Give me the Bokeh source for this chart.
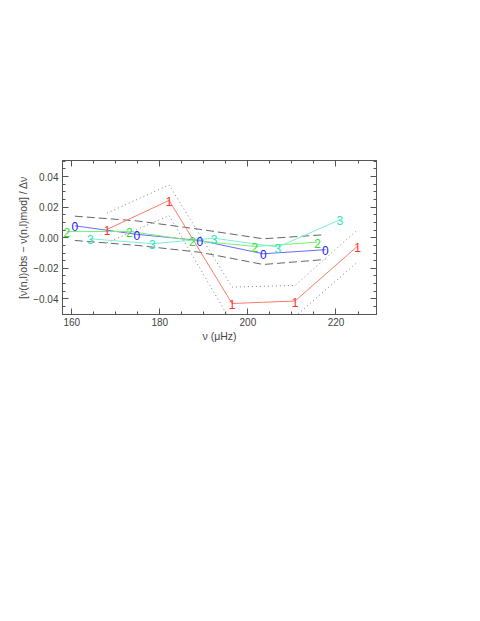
from bokeh.plotting import figure
from bokeh.models import FixedTicker, LinearAxis, Range1d, CustomJSTickFormatter, CustomLabelingPolicy
from bokeh.core.properties import value
from bokeh.embed import file_html
from bokeh.resources import INLINE

# l = 0
x_l0 = [160.7, 174.8, 189.1, 203.5, 217.6]
y_l0 = [0.0078, 0.0022, -0.0018, -0.0105, -0.0078]
# l = 1
x_l1 = [168.0, 182.1, 196.4, 210.7, 224.9]
y_l1 = [0.0054, 0.0244, -0.0430, -0.0414, -0.0055]
# l = 2
x_l2 = [158.9, 173.1, 187.4, 201.6, 215.8]
y_l2 = [0.0040, 0.0041, -0.0018, -0.0057, -0.0029]
# l = 3
x_l3 = [164.2, 178.3, 192.3, 206.8, 220.9]
y_l3 = [-0.0007, -0.0039, -0.0003, -0.0061, 0.0118]

# dashed band (l = 0 envelope)
band0_x = x_l0
band0_hi = [0.0141, 0.0110, 0.0055, -0.0007, 0.0020]
band0_lo = [-0.0018, -0.0050, -0.0095, -0.0175, -0.0142]
# dotted band (l = 1 envelope)
band1_x = x_l1
band1_hi = [0.0161, 0.0345, -0.0323, -0.0312, 0.0052]
band1_lo = [-0.0033, 0.0145, -0.0560, -0.0515, -0.0159]

x_ticks = [160, 180, 200, 220]
x_minor = [155, 160, 165, 170, 175, 180, 185, 190, 195, 200, 205, 210, 215, 220, 225]
y_ticks = [-0.04, -0.02, 0.0, 0.02, 0.04]
y_minor = [round(-0.05 + 0.005 * i, 3) for i in range(21)]

FONT = "Liberation Sans"
AX = "#555555"

p = figure(width=472, height=366, output_backend="svg", toolbar_location=None,
           x_range=Range1d(157.9, 229.2), y_range=Range1d(-0.0502, 0.0505),
           min_border_left=62, min_border_right=96, min_border_top=160, min_border_bottom=52)
p.grid.visible = False
p.outline_line_color = AX
p.outline_line_width = 1
p.background_fill_color = "white"
p.border_fill_color = "white"

fmt_y = CustomJSTickFormatter(code="return (tick < -1e-9 ? '\u2212' : '') + Math.abs(tick).toFixed(2);")
no_labels = CustomLabelingPolicy(code="""
try {
  for (const i of Array.from(indices)) { indices.unset(i); }
  return indices;
} catch (e) {
  try { return new indices.constructor(indices.size); } catch (e2) { return indices; }
}
""")

def style(ax):
    ax.major_tick_in = 6
    ax.major_tick_out = 0
    ax.minor_tick_in = 3
    ax.minor_tick_out = 0
    ax.axis_line_color = AX
    ax.major_tick_line_color = AX
    ax.minor_tick_line_color = AX
    ax.major_label_text_font = FONT
    ax.major_label_text_font_size = "10px"
    ax.major_label_text_color = "#444444"
    ax.axis_label_text_font = FONT
    ax.axis_label_text_font_style = "normal"
    ax.axis_label_text_font_size = "10.5px"
    ax.axis_label_text_color = "#444444"

p.xaxis.ticker = FixedTicker(ticks=x_ticks, minor_ticks=x_minor)
p.yaxis.ticker = FixedTicker(ticks=y_ticks, minor_ticks=y_minor)
p.yaxis.formatter = fmt_y
style(p.xaxis[0])
style(p.yaxis[0])
p.xaxis.axis_label = "\u03bd (\u03bcHz)"
p.yaxis.axis_label = "[\u03bd(n,l)obs \u2212 \u03bd(n,l)mod] / \u0394\u03bd"
p.xaxis.major_label_standoff = 3
p.yaxis.major_label_standoff = 4
p.xaxis.axis_label_standoff = 1
p.yaxis.axis_label_standoff = 1

top = LinearAxis(ticker=FixedTicker(ticks=x_ticks, minor_ticks=x_minor), major_label_policy=no_labels)
style(top)
top.major_label_standoff = 0
p.add_layout(top, "above")
right = LinearAxis(ticker=FixedTicker(ticks=y_ticks, minor_ticks=y_minor), major_label_policy=no_labels)
style(right)
right.major_label_standoff = 0
p.add_layout(right, "right")

# envelopes
p.line(band0_x, band0_hi, line_color="#666666", line_dash="8 4", line_width=1)
p.line(band0_x, band0_lo, line_color="#666666", line_dash="8 4", line_width=1)
p.line(band1_x, band1_hi, line_color="#808080", line_dash="1 3", line_width=1)
p.line(band1_x, band1_lo, line_color="#808080", line_dash="1 3", line_width=1)

series = [
    (x_l0, y_l0, "#6a6aff", "#2020ff", "0"),
    (x_l1, y_l1, "#ff7a6a", "#ff3020", "1"),
    (x_l2, y_l2, "#78ee78", "#30dd30", "2"),
    (x_l3, y_l3, "#78f0d4", "#30e0c0", "3"),
]
for xs, ys, lc, tc, lab in series:
    p.line(xs, ys, line_color=lc, line_width=1)
for xs, ys, lc, tc, lab in series:
    p.text(x=xs, y=ys, text=[lab] * len(xs), text_color=tc,
           text_font=value(FONT), text_font_size="12px",
           text_align="center", text_baseline="alphabetic", y_offset=1)

open("out.html", "w").write(file_html(p, INLINE))
